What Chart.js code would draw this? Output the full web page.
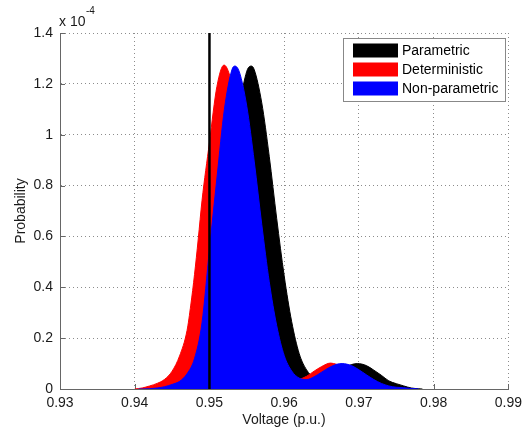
<!DOCTYPE html>
<html>
<head>
<meta charset="utf-8">
<script src="https://cdn.jsdelivr.net/npm/chart.js@4.4.1/dist/chart.umd.min.js"></script>
<style>
  html, body { margin: 0; padding: 0; background: #fff; }
  #wrap { width: 528px; height: 432px; }
</style>
</head>
<body>
<div id="wrap"><canvas id="myChart" width="528" height="432"></canvas></div>
<script>
// values, probability in units of 1e-4
const parametricV = [0.9430, 0.9440, 0.9450, 0.9460, 0.9470, 0.9480, 0.9490, 0.9500, 0.9510, 0.9520, 0.9530, 0.9540, 0.9550, 0.9556, 0.9560, 0.9570, 0.9580, 0.9590, 0.9600, 0.9610, 0.9620, 0.9630, 0.9640, 0.9650, 0.9660, 0.9670, 0.9680, 0.9690, 0.9698, 0.9710, 0.9720, 0.9730, 0.9740, 0.9750, 0.9760, 0.9770, 0.9780, 0.9785];
const parametricP = [0, 0.002, 0.005, 0.01, 0.02, 0.03, 0.06, 0.12, 0.26, 0.55, 0.83, 1.10, 1.25, 1.27, 1.255, 1.125, 0.915, 0.67, 0.445, 0.265, 0.14, 0.075, 0.045, 0.039, 0.048, 0.065, 0.083, 0.096, 0.100, 0.092, 0.074, 0.054, 0.032, 0.021, 0.012, 0.004, 0.001, 0];

const deterministicV = [0.9400, 0.9410, 0.9420, 0.9430, 0.9440, 0.9450, 0.9460, 0.9470, 0.9475, 0.9480, 0.9485, 0.9490, 0.9500, 0.9510, 0.95195, 0.9530, 0.9540, 0.9550, 0.9560, 0.9570, 0.9580, 0.9590, 0.9600, 0.9610, 0.9615, 0.9620, 0.9630, 0.9640, 0.9650, 0.9662, 0.9670, 0.9680, 0.9690, 0.9700, 0.9710, 0.9720, 0.9730, 0.9740, 0.9750, 0.9760, 0.9765];
const deterministicP = [0, 0.004, 0.012, 0.022, 0.038, 0.07, 0.13, 0.23, 0.33, 0.45, 0.59, 0.74, 0.97, 1.19, 1.274, 1.20, 1.02, 0.78, 0.53, 0.34, 0.19, 0.10, 0.058, 0.04, 0.036, 0.038, 0.05, 0.07, 0.088, 0.102, 0.097, 0.086, 0.07, 0.052, 0.034, 0.02, 0.011, 0.006, 0.003, 0.001, 0];

const nonParametricV = [0.9405, 0.9410, 0.9420, 0.9430, 0.9440, 0.9450, 0.9460, 0.9470, 0.9480, 0.9490, 0.9500, 0.9510, 0.9520, 0.9530, 0.9534, 0.9540, 0.9550, 0.9560, 0.9570, 0.9580, 0.9590, 0.9600, 0.9610, 0.9620, 0.9630, 0.9640, 0.9650, 0.9660, 0.9670, 0.96775, 0.9690, 0.9700, 0.9710, 0.9720, 0.9730, 0.9740, 0.9750, 0.9760, 0.9770, 0.9780];
const nonParametricP = [0, 0, 0.001, 0.004, 0.009, 0.018, 0.03, 0.06, 0.12, 0.26, 0.55, 0.83, 1.10, 1.255, 1.27, 1.247, 1.111, 0.893, 0.647, 0.422, 0.249, 0.132, 0.071, 0.043, 0.037, 0.048, 0.066, 0.084, 0.097, 0.100, 0.092, 0.0755, 0.056, 0.037, 0.022, 0.012, 0.007, 0.005, 0.002, 0];

const thresholdV = 0.95;
const seriesLabels = ['Parametric', 'Deterministic', 'Non-parametric'];
const seriesColors = ['#000000', '#ff0000', '#0000ff'];

const xTicks = [0.93, 0.94, 0.95, 0.96, 0.97, 0.98, 0.99];
const yTicks = [0, 0.2, 0.4, 0.6, 0.8, 1.0, 1.2, 1.4];

const FONT = 'Liberation Sans, Arial, sans-serif';
const TEXT = '#1a1a1a';

function toPoints(xs, ys) {
	return xs.map((x, i) => ({ x: x, y: ys[i] }));
}

function areaDataset(label, xs, ys, color, order) {
	return {
		label: label,
		data: toPoints(xs, ys),
		borderColor: color,
		backgroundColor: color,
		borderWidth: 1,
		pointRadius: 0,
		fill: 'origin',
		cubicInterpolationMode: 'monotone',
		order: order
	};
}

// inward tick marks, drawn under the areas
const innerTicks = {
	id: 'innerTicks',
	beforeDatasetsDraw(chart) {
		const { ctx, chartArea, scales } = chart;
		ctx.save();
		ctx.strokeStyle = '#666';
		ctx.lineWidth = 1;
		ctx.beginPath();
		xTicks.forEach(v => {
			const px = Math.round(scales.x.getPixelForValue(v)) + 0.5;
			ctx.moveTo(px, chartArea.bottom);
			ctx.lineTo(px, chartArea.bottom - 5);
		});
		yTicks.forEach(v => {
			const py = Math.round(scales.y.getPixelForValue(v)) + 0.5;
			ctx.moveTo(chartArea.left, py);
			ctx.lineTo(chartArea.left + 5, py);
		});
		ctx.stroke();
		ctx.restore();
	}
};

// axis titles, exponent and legend box
const decorations = {
	id: 'decorations',
	afterDraw(chart) {
		const { ctx, chartArea } = chart;
		ctx.save();
		ctx.fillStyle = TEXT;
		ctx.font = '14px ' + FONT;
		ctx.textAlign = 'center';
		ctx.textBaseline = 'middle';
		ctx.fillText('Voltage (p.u.)', 284, 420);

		ctx.save();
		ctx.translate(21, (chartArea.top + chartArea.bottom) / 2);
		ctx.rotate(-Math.PI / 2);
		ctx.fillText('Probability', 0, 0);
		ctx.restore();

		ctx.textAlign = 'left';
		ctx.textBaseline = 'alphabetic';
		ctx.fillText('x 10', 59, 26);
		ctx.font = '10px ' + FONT;
		ctx.fillText('-4', 86, 14);

		// legend
		const lx = 343.5, ly = 38.5, lw = 162, lh = 63;
		ctx.fillStyle = '#fff';
		ctx.fillRect(lx, ly, lw, lh);
		ctx.strokeStyle = '#888';
		ctx.lineWidth = 1;
		ctx.strokeRect(lx, ly, lw, lh);
		ctx.font = '14px ' + FONT;
		ctx.textBaseline = 'middle';
		seriesLabels.forEach((label, i) => {
			const cy = 50.5 + i * 19;
			ctx.fillStyle = seriesColors[i];
			ctx.fillRect(353, cy - 7, 45, 14);
			ctx.fillStyle = '#000';
			ctx.fillText(label, 402, cy + 1);
		});
		ctx.restore();
	}
};

const ctx = document.getElementById('myChart');
const myChart = new Chart(ctx, {
	type: 'line',
	data: {
		datasets: [
			{
				label: 'threshold',
				data: [{ x: thresholdV, y: 0 }, { x: thresholdV, y: 1.4 }],
				borderColor: '#000',
				borderWidth: 2.5,
				pointRadius: 0,
				fill: false,
				order: 0
			},
			areaDataset(seriesLabels[2], nonParametricV, nonParametricP, seriesColors[2], 1),
			areaDataset(seriesLabels[1], deterministicV, deterministicP, seriesColors[1], 2),
			areaDataset(seriesLabels[0], parametricV, parametricP, seriesColors[0], 3)
		]
	},
	options: {
		responsive: false,
		animation: false,
		layout: { padding: { left: 0, top: 33, right: 16, bottom: 0 } },
		plugins: {
			legend: { display: false },
			tooltip: { enabled: false }
		},
		scales: {
			x: {
				type: 'linear',
				min: 0.93,
				max: 0.99,
				afterBuildTicks: axis => { axis.ticks = xTicks.map(v => ({ value: v })); },
				afterFit: axis => { axis.height = 43; },
				ticks: {
					color: TEXT,
					font: { family: FONT, size: 14 },
					padding: 6,
					maxRotation: 0,
					callback: v => v.toFixed(2)
				},
				grid: { color: '#8c8c8c', lineWidth: 1, drawTicks: false },
				// in v4 border.dash sets the grid line dash
				border: { display: true, color: '#666', width: 1, dash: [1, 3] }
			},
			y: {
				type: 'linear',
				min: 0,
				max: 1.4,
				afterBuildTicks: axis => { axis.ticks = yTicks.map(v => ({ value: v })); },
				afterFit: axis => { axis.width = 60; },
				ticks: {
					color: TEXT,
					font: { family: FONT, size: 14 },
					padding: 7,
					callback: v => String(+v.toFixed(1))
				},
				grid: { color: '#8c8c8c', lineWidth: 1, drawTicks: false },
				border: { display: true, color: '#666', width: 1, dash: [1, 3] }
			}
		}
	},
	plugins: [innerTicks, decorations]
});
</script>
</body>
</html>
